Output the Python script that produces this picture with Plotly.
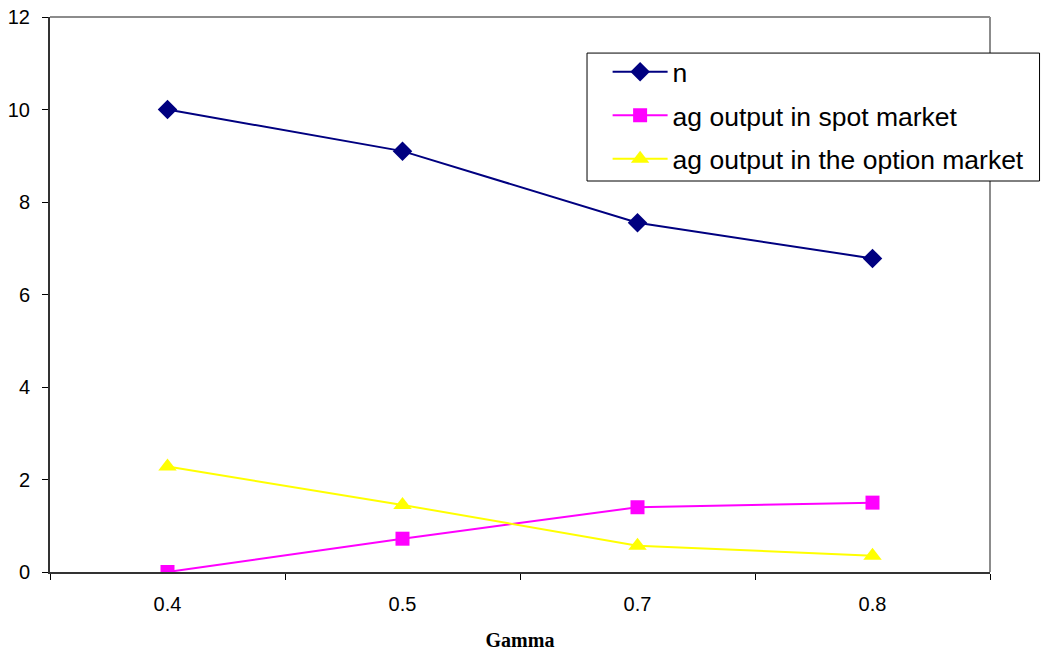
import plotly.graph_objects as go

# Category labels on the x axis (Gamma) and the three series
gamma = ["0.4", "0.5", "0.7", "0.8"]
n_values = [10.0, 9.1, 7.55, 6.78]
spot_output = [0.0, 0.72, 1.4, 1.5]
option_output = [2.28, 1.45, 0.57, 0.35]

series_names = ["n", "ag output in spot market", "ag output in the option market"]
y_ticks = [0, 2, 4, 6, 8, 10, 12]

fig = go.Figure()
fig.add_trace(go.Scatter(
    x=gamma, y=n_values, name=series_names[0], mode="lines+markers",
    line=dict(color="#000080", width=2),
    marker=dict(symbol="diamond", size=15, color="#000080"),
    legendgroup="a",
))
fig.add_trace(go.Scatter(
    x=gamma, y=spot_output, name=series_names[1], mode="lines+markers",
    line=dict(color="#FF00FF", width=2),
    marker=dict(symbol="square", size=14, color="#FF00FF"),
    legendgroup="b",
))
fig.add_trace(go.Scatter(
    x=gamma, y=option_output, name=series_names[2], mode="lines+markers",
    line=dict(color="#FFFF00", width=2),
    marker=dict(symbol="triangle-up", size=16, color="#FFFF00"),
    legendgroup="c",
))

# Gray frame along the top and right of the plot area
fig.add_shape(type="line", xref="paper", yref="paper", x0=0, x1=1, y0=1, y1=1,
              line=dict(color="#8c8c8c", width=2), layer="below")
fig.add_shape(type="line", xref="paper", yref="paper", x0=1, x1=1, y0=0, y1=1,
              line=dict(color="#8c8c8c", width=2), layer="below")
# Legend box
fig.add_shape(type="rect", xref="paper", yref="paper",
              x0=0.5713, x1=1.0527, y0=0.7045, y1=0.935,
              line=dict(color="#000000", width=1), fillcolor="white", layer="above")

fig.update_layout(
    width=1042, height=654,
    margin=dict(l=50, r=52, t=17, b=82),
    plot_bgcolor="white", paper_bgcolor="white",
    font=dict(family="Liberation Sans, Arial, sans-serif", size=19, color="#000000"),
    showlegend=True,
    legend=dict(
        x=0.5932, y=0.944, xanchor="left", yanchor="top",
        bgcolor="rgba(0,0,0,0)", borderwidth=0,
        font=dict(size=26.5, family="Liberation Sans, Arial, sans-serif"),
        traceorder="grouped", tracegroupgap=6,
        itemwidth=55,
    ),
    xaxis=dict(
        type="category", range=[-0.5, 3.5], automargin=False,
        showgrid=False, zeroline=False,
        showline=True, linecolor="#333333", linewidth=2,
        ticks="outside", tickson="boundaries", ticklen=6, tickcolor="#000000",
        tickfont=dict(size=20), ticklabelstandoff=13,
        title=dict(text="<b>Gamma</b>",
                   font=dict(family="Liberation Serif, Times New Roman, serif", size=20),
                   standoff=19),
    ),
    yaxis=dict(
        range=[0, 12], tickvals=y_ticks, automargin=False,
        showgrid=False, zeroline=False,
        showline=True, linecolor="#333333", linewidth=2,
        ticks="outside", ticklen=6, tickcolor="#000000",
        tickfont=dict(size=20), ticklabelstandoff=8,
    ),
)

fig.write_html("out.html")
